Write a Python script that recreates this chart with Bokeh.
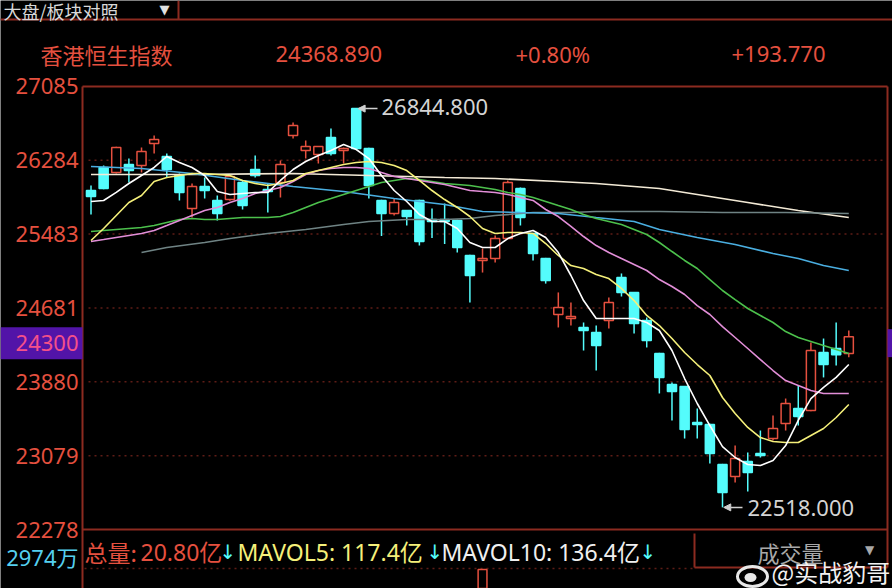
from bokeh.plotting import figure
from bokeh.models import Range1d, ColumnDataSource, Arrow, NormalHead
from bokeh.core.properties import value
from bokeh.embed import file_html
from bokeh.resources import INLINE

# ---------------- data ----------------
opens = [25956, 26206, 26151, 26238, 26227, 26466, 26325, 26119, 25761, 25999,
         25848, 25858, 26043, 26184, 25967, 26043, 26553, 26390, 26347, 26531,
         26390, 26844.8, 26412, 25848, 25707, 25739, 25848, 25641, 25641, 25631,
         25251, 25197, 25218, 25435, 25978, 25489, 25218, 24611, 24567, 24470,
         24415, 24546, 25012, 24850, 24546, 24188, 23851, 23830, 23439, 23418,
         22983, 22853, 23016, 23103, 23265, 23428, 23591, 23569, 24198, 24242,
         24188]
highs = [26010, 26227, 26430, 26303, 26423, 26553, 26358, 26140, 26032, 26097,
         25902, 26130, 26064, 26336, 26032, 26281, 26694, 26499, 26440, 26629,
         26423, 26844.8, 26420, 25855, 25869, 25745, 25855, 25761, 25815, 25640,
         25260, 25327, 25468, 26064, 25990, 25495, 25225, 24850, 24741, 24524,
         24492, 24796, 25056, 24855, 24578, 24195, 23873, 23835, 23591, 23425,
         22990, 23189, 23114, 23352, 23515, 23699, 23840, 24307, 24350, 24524,
         24437]
lows = [25696, 25970, 26140, 26043, 26151, 26358, 26097, 25848, 25663, 25869,
        25631, 25845, 25749, 26097, 25717, 25880, 26520, 26303, 26249, 26336,
        26249, 26400, 25869, 25462, 25685, 25576, 25359, 25441, 25375, 25283,
        24741, 25066, 25175, 25430, 25576, 25197, 24946, 24470, 24492, 24220,
        24003, 24459, 24806, 24405, 24253, 23754, 23460, 23265, 23265, 22994,
        22518, 22788, 22690, 23059, 23244, 23352, 23406, 23560, 23928, 24057,
        24146]
closes = [25891, 25978, 26423, 26173, 26379, 26510, 26184, 25935, 25999, 25956,
          25707, 26108, 25793, 26119, 25945, 26238, 26661, 26434, 26434, 26358,
          26412, 26412, 26010, 25707, 25826, 25674, 25403, 25620, 25620, 25338,
          25034, 25218, 25435, 26043, 25663, 25273, 24979, 24687, 24589, 24437,
          24274, 24741, 24850, 24513, 24329, 23928, 23775, 23363, 23418, 23103,
          22679, 23048, 22897, 23081, 23374, 23645, 23504, 24220, 24068, 24175.12,
          24368.89]

ma5 = [25837, 25848, 25935, 26032, 26119, 26206, 26325, 26260, 26206, 26119,
       25945, 25913, 25924, 25935, 25935, 26065, 26184, 26271, 26336, 26390,
       26455, 26401, 26303, 26119, 25956, 25837, 25696, 25620, 25620, 25544,
       25392, 25338, 25338, 25435, 25490, 25522, 25446, 25283, 25034, 24762,
       24567, 24567, 24567, 24567, 24524, 24437, 24220, 23916, 23645, 23406,
       23178, 23059, 22983, 22972, 23027, 23189, 23461, 23699, 23819, 23928,
       24068]
ma10 = [25414, 25544, 25685, 25826, 25902, 26054, 26097, 26119, 26140, 26140,
        26130, 26119, 26065, 26032, 26010, 26032, 26065, 26140, 26173, 26206,
        26238, 26260, 26271, 26260, 26227, 26173, 26065, 25956, 25858, 25772,
        25674, 25544, 25490, 25501, 25501, 25490, 25381, 25251, 25142, 25110,
        25045, 25001, 24893, 24762, 24600, 24491, 24350, 24198, 24068, 23949,
        23710, 23537, 23385, 23276, 23233, 23222, 23222, 23298, 23374, 23493,
        23634]
ma20 = [25403, 25424, 25446, 25468, 25490, 25522, 25576, 25631, 25685, 25739,
        25772, 25826, 25869, 25924, 25956, 25989, 26054, 26130, 26173, 26195,
        26206, 26206, 26195, 26151, 26108, 26086, 26065, 26043, 26021, 25989,
        25956, 25945, 25935, 25913, 25880, 25848, 25750, 25674, 25566, 25457,
        25359, 25283, 25218, 25153, 25088, 24990, 24915, 24828, 24708, 24611,
        24480, 24361, 24242, 24122, 24003, 23894, 23840, 23786, 23753, 23753,
        23753]
ma30 = [25511, 25522, 25533, 25544, 25555, 25576, 25609, 25641, 25652, 25641,
        25641, 25652, 25663, 25663, 25663, 25674, 25717, 25772, 25826, 25869,
        25913, 25956, 25999, 26043, 26065, 26086, 26076, 26054, 26032, 26021,
        26010, 25989, 25967, 25935, 25913, 25880, 25837, 25793, 25750, 25696,
        25652, 25620, 25587, 25533, 25479, 25392, 25294, 25197, 25110, 24990,
        24871, 24773, 24676, 24600, 24524, 24426, 24361, 24318, 24274, 24231,
        24188]
ma60_idx = [0, 4, 8, 12, 16, 20, 24, 28, 31, 34, 37, 40, 43, 45, 48, 51, 54, 56, 58, 60]
ma60 = [26217, 26195, 26140, 26065, 25999, 25945, 25869, 25804, 25728, 25717,
        25707, 25663, 25620, 25533, 25446, 25370, 25272, 25218, 25142, 25088]
ma120_idx = [4, 6, 9, 11, 14, 17, 20, 22, 25, 28, 30, 32, 35, 38, 40, 45, 50, 55, 60]
ma120 = [25283, 25338, 25392, 25435, 25490, 25533, 25587, 25620, 25641, 25641,
         25652, 25685, 25717, 25717, 25728, 25728, 25717, 25717, 25707]
ma250_idx = [0, 8, 16, 22, 28, 32, 37, 40, 45, 48, 52, 56, 60]
ma250 = [26130, 26130, 26140, 26119, 26097, 26086, 26054, 26032, 25978, 25913,
         25826, 25739, 25663]

y_ticks = [27085, 26284, 25483, 24681, 23880, 23079, 22278]
y_tick_labels = ["27085", "26284", "25483", "24681", "23880", "23079", "22278"]
marker_price = 24300
marker_label = "24300"
index_name = "香港恒生指数"
last_price = "24368.890"
pct_change = "+0.80%"
abs_change = "+193.770"
hi_value, hi_label = 26844.8, "26844.800"
lo_value, lo_label = 22518.0, "22518.000"
vol_axis_label = "2974万"
vol_bar_index = 31

# ---------------- layout helpers ----------------
W, H = 892, 588
X0, DX = 90.5, 12.63
PY0, PPX = 28017.65, 10.85
def xd(px): return (px - X0) / DX
def yd(py): return PY0 - py * PPX

RED = "#e5503f"
CYAN = "#54fcfc"
FRAME = "#8c2b20"
GRIDC = "#5e1c16"
MIX = value("Noto Sans, Noto Sans CJK SC")
CJK = value("Noto Sans CJK SC")
ARW = value("DejaVu Sans")

p = figure(width=W, height=H, x_range=Range1d(xd(0), xd(W)), y_range=Range1d(yd(H), yd(0)),
           x_axis_type=None, y_axis_type=None, toolbar_location=None, output_backend="svg",
           min_border=0, background_fill_color="black", border_fill_color="black",
           outline_line_color=None)
p.grid.visible = False

def txt(px, py, s, color, size=22, align="left", font=MIX):
    p.text(x=[xd(px)], y=[yd(py)], text=[s], text_color=color, text_font=font,
           text_font_size=f"{size}px", text_align=align, text_baseline="middle")

# header
p.segment(x0=[xd(0), xd(178)], y0=[yd(19), yd(0)], x1=[xd(W), xd(178)], y1=[yd(19), yd(19)],
          line_color=FRAME, line_width=2)
txt(3, 10, "大盘/板块对照", "#d8d8d8", 18, font=CJK)
txt(164, 9, "▼", "#e0e0e0", 13, align="center", font=ARW)
txt(40, 53, index_name, RED, 22, font=CJK)
txt(275, 53, last_price, RED, 22)
txt(515, 53, pct_change, RED, 22)
txt(731, 53, abs_change, RED, 22)

# grid (dotted) at interior ticks
for t in y_ticks[1:-1]:
    p.line(x=[xd(88), xd(885)], y=[t, t], line_color=GRIDC, line_width=1.5, line_dash="2 4")

# frame
p.segment(x0=[xd(82), xd(82), xd(82), xd(887)], y0=[y_ticks[0], y_ticks[0], y_ticks[-1], y_ticks[0]],
          x1=[xd(82), xd(887), xd(887), xd(887)], y1=[yd(H), y_ticks[0], y_ticks[-1], yd(567)],
          line_color=FRAME, line_width=2)

# y tick labels
p.text(x=[xd(78)] * len(y_ticks), y=y_ticks, text=y_tick_labels, text_color=RED,
       text_font=MIX, text_font_size="22px", text_align="right", text_baseline="middle")
# current price marker
p.quad(left=[xd(0)], right=[xd(82)], bottom=[marker_price - 16 * PPX], top=[marker_price + 16 * PPX],
       fill_color="#5214a8", line_color=None)
p.quad(left=[xd(887)], right=[xd(W)], bottom=[marker_price - 14 * PPX], top=[marker_price + 14 * PPX],
       fill_color="#5214a8", line_color=None)
p.text(x=[xd(78)], y=[marker_price], text=[marker_label], text_color="#f5508a",
       text_font=MIX, text_font_size="22px", text_align="right", text_baseline="middle")

# candles
n = len(opens)
xs = list(range(n))
up = [c >= o for o, c in zip(opens, closes)]
src = ColumnDataSource(dict(
    x=xs, o=opens, h=highs, l=lows, c=closes,
    top=[max(o, c) for o, c in zip(opens, closes)],
    bottom=[min(o, c) for o, c in zip(opens, closes)],
    color=[RED if u else CYAN for u in up],
    fill=["black" if u else CYAN for u in up],
))
p.segment(x0="x", y0="l", x1="x", y1="h", source=src, line_color="color", line_width=1.5)
p.vbar(x="x", width=0.72, top="top", bottom="bottom", source=src,
       fill_color="fill", line_color="color", line_width=1.5)

# moving averages
p.line(ma250_idx, ma250, line_color="#f3ead6", line_width=1.6)
p.line(ma120_idx, ma120, line_color="#6f8384", line_width=1.6)
p.line(ma60_idx, ma60, line_color="#4aaee0", line_width=1.6)
p.line(xs, ma30, line_color="#4cc04c", line_width=1.6)
p.line(xs, ma20, line_color="#e28ed8", line_width=1.6)
p.line(xs, ma10, line_color="#f5f07a", line_width=1.6)
p.line(xs, ma5, line_color="#ffffff", line_width=1.6)

# high / low annotations
hi_i = highs.index(max(highs))
lo_i = lows.index(min(lows))
p.add_layout(Arrow(end=NormalHead(size=7, fill_color="#cfcfcf", line_color="#cfcfcf"),
                   x_start=xd(377), y_start=hi_value, x_end=hi_i + 0.15, y_end=hi_value,
                   line_color="#cfcfcf", line_width=1.5))
txt(381, 106, hi_label, "#d4d4d4", 22)
p.add_layout(Arrow(end=NormalHead(size=7, fill_color="#cfcfcf", line_color="#cfcfcf"),
                   x_start=xd(742), y_start=lo_value, x_end=lo_i + 0.1, y_end=lo_value,
                   line_color="#cfcfcf", line_width=1.5))
txt(747, 507, lo_label, "#d4d4d4", 22)

# volume panel header
p.line(x=[xd(84), xd(694)], y=[yd(568), yd(568)], line_color=GRIDC, line_width=1.5, line_dash="2 4")
p.segment(x0=[xd(694), xd(694)], y0=[yd(533), yd(567)], x1=[xd(694), xd(887)], y1=[yd(567), yd(567)],
          line_color=FRAME, line_width=2)
p.vbar(x=[vol_bar_index], width=0.7, top=[yd(569)], bottom=[yd(H + 5)], fill_color="black",
       line_color=RED, line_width=1.5)
txt(78, 556, vol_axis_label, "#55d0f0", 22, align="right")
txt(84, 551, "总量:", RED, 23, font=CJK)
txt(140, 551, "20.80亿", RED, 23)
txt(219, 551, "↓", CYAN, 20, font=ARW)
txt(237, 551, "MAVOL5: 117.4亿", "#f5f07a", 23)
txt(426, 551, "↓", CYAN, 20, font=ARW)
txt(441, 551, "MAVOL10: 136.4亿", "#f0f0f0", 23)
txt(639, 551, "↓", CYAN, 20, font=ARW)
txt(790, 551, "成交量", "#a8a8a8", 22, align="center", font=CJK)
txt(869, 549, "▼", "#a8a8a8", 12, align="center", font=ARW)

# watermark
p.ellipse(x=[xd(752)], y=[yd(576)], width=[30 / DX], height=[20 * PPX], fill_color=None,
          line_color="#e8e8e8", line_width=3)
p.ellipse(x=[xd(750)], y=[yd(577)], width=[12 / DX], height=[9 * PPX], fill_color="#e8e8e8",
          line_color=None)
txt(771, 571, "@实战豹哥", "#f2f2f2", 24, font=CJK)

open("out.html", "w").write(file_html(p, INLINE))
